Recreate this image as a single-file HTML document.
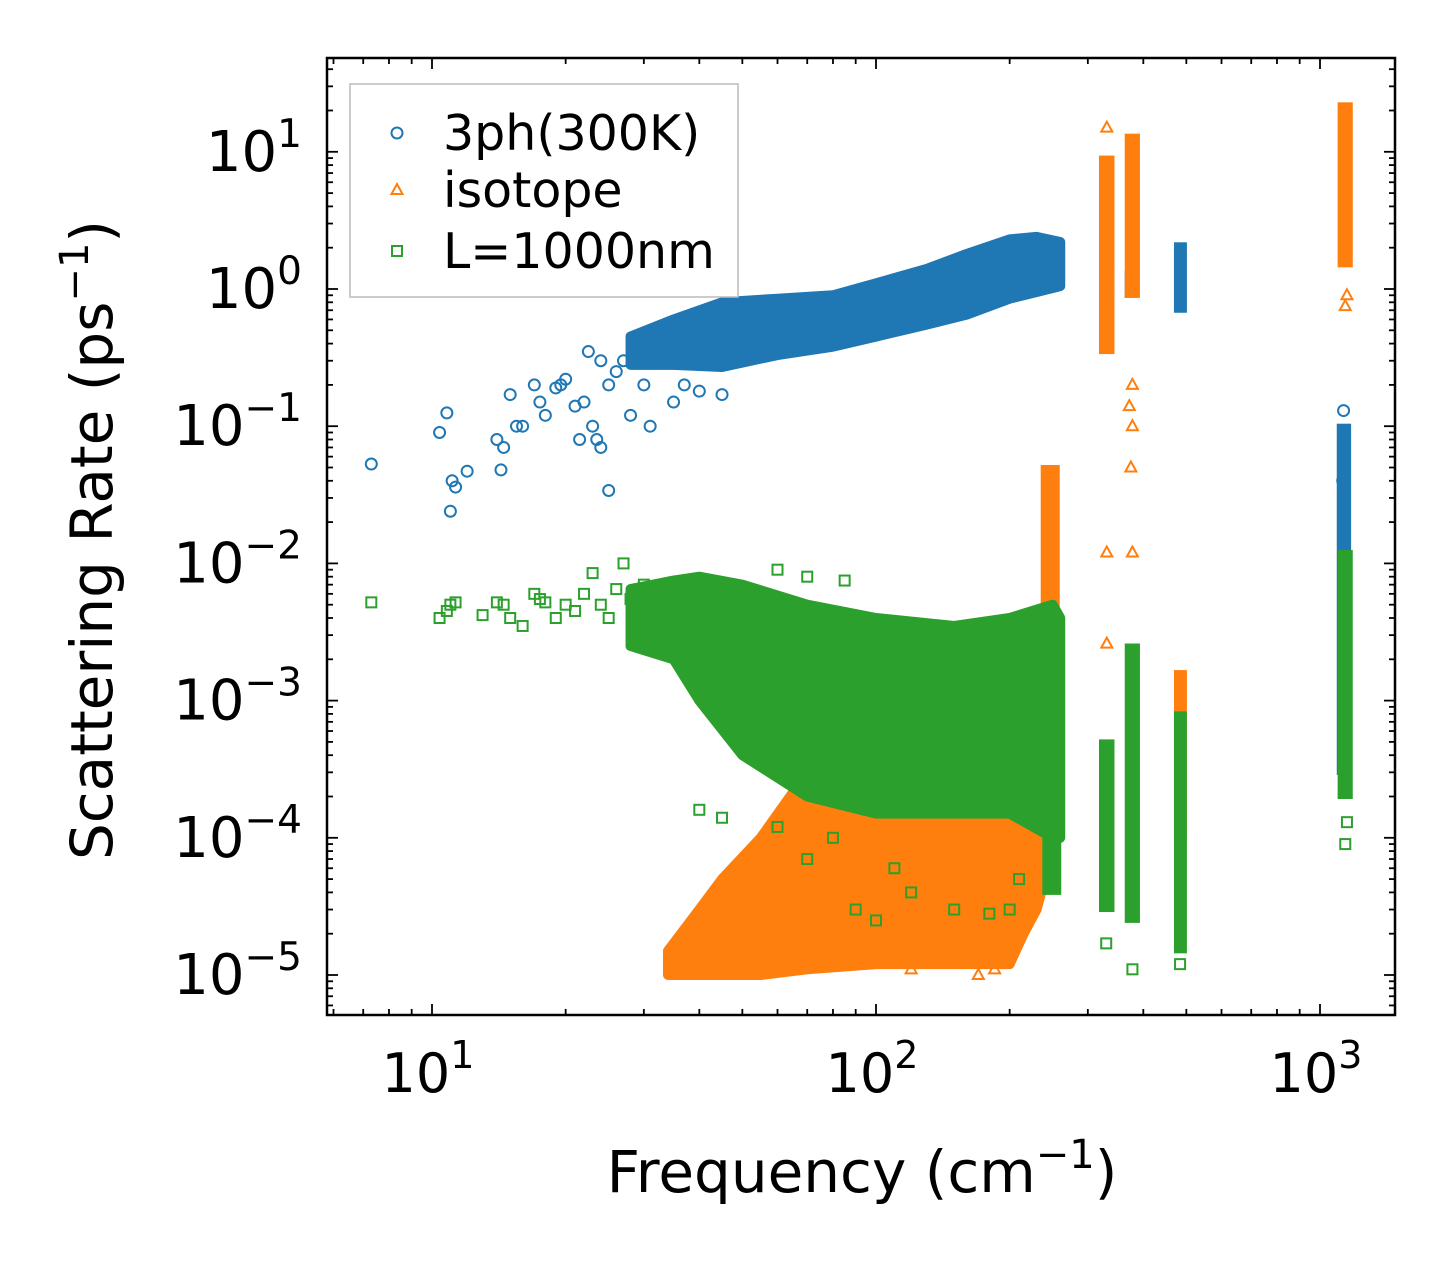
<!DOCTYPE html>
<html><head><meta charset="utf-8"><style>
body{margin:0;background:#fff}
svg text{font-family:"DejaVu Sans","Liberation Sans",sans-serif;fill:#000}
</style></head><body>
<svg id="chart" width="1455" height="1265" xmlns="http://www.w3.org/2000/svg">
<g id="plot"></g>
<g id="axes"></g>
</svg>
<script>
// ---- data ----
const xTickVals = [10, 100, 1000];
const xTickLabels = ["1", "2", "3"];
const yTickVals = [10, 1, 0.1, 0.01, 0.001, 0.0001, 0.00001];
const yTickLabels = ["1", "0", "\u22121", "\u22122", "\u22123", "\u22124", "\u22125"];

// blue 3ph sparse points [freq, rate]
const bluePts = [[7.3,0.053],[10.4,0.09],[10.8,0.125],[11,0.024],[11.1,0.04],[11.3,0.036],[12,0.047],[14,0.08],[14.3,0.048],[14.5,0.07],[15,0.17],[15.5,0.1],[16,0.1],[17,0.2],[17.5,0.15],[18,0.12],[19,0.19],[19.5,0.2],[20,0.22],[21,0.14],[21.5,0.08],[22,0.15],[22.5,0.35],[23,0.1],[23.5,0.08],[24,0.07],[24,0.3],[25,0.034],[25,0.2],[26,0.25],[27,0.3],[28,0.12],[29,0.4],[30,0.2],[31,0.1],[32,0.5],[33,0.3],[35,0.15],[37,0.2],[40,0.18],[45,0.17],[1125,0.04],[1130,0.13],[1135,0.09]];
// blue dense band: freq, low, high
const blueBandF = [28,35,45,60,80,100,130,160,200,230,260];
const blueBandLo = [0.28,0.28,0.27,0.33,0.38,0.45,0.55,0.65,0.85,0.95,1.05];
const blueBandHi = [0.45,0.6,0.8,0.85,0.9,1.1,1.4,1.8,2.3,2.4,2.2];
// blue strips: [fLo, fHi, rLo, rHi]
const blueStrips = [[325,340,0.9,1.4],[368,385,0.9,1.3],[475,495,0.7,2.1],[1105,1160,0.0003,0.1]];

// orange isotope
const orangePts = [[331,15],[331,0.012],[331,0.0026],[378,0.2],[378,0.1],[375,0.05],[378,0.012],[372,0.14],[1150,0.9],[1140,0.75],[40,1.2e-5],[60,1.1e-5],[90,1.2e-5],[120,1.1e-5],[170,1.0e-5],[185,1.1e-5]];
const orangeBandF = [34,40,45,55,70,100,150,200,215,230,240];
const orangeBandLo = [1.0e-5,1.0e-5,1.0e-5,1.0e-5,1.1e-5,1.2e-5,1.2e-5,1.2e-5,2e-5,3e-5,5e-5];
const orangeBandHi = [1.5e-5,3e-5,5e-5,1e-4,3e-4,4e-4,5e-4,6e-4,1e-3,2e-3,4e-3];
const orangeStrips = [[238,256,1e-4,0.05],[322,340,0.35,9],[368,388,0.9,13],[475,495,1e-4,1.6e-3],[1110,1170,1.5,22]];

// green L=1000nm
const greenPts = [[7.3,0.0052],[10.4,0.004],[10.8,0.0045],[11,0.005],[11.3,0.0052],[13,0.0042],[14,0.0052],[14.5,0.005],[15,0.004],[16,0.0035],[17,0.006],[17.5,0.0055],[18,0.0052],[19,0.004],[20,0.005],[21,0.0045],[22,0.006],[23,0.0085],[24,0.005],[25,0.004],[26,0.0065],[27,0.01],[28,0.0055],[30,0.007],[40,1.6e-4],[45,1.4e-4],[60,1.2e-4],[70,7e-5],[80,1e-4],[90,3e-5],[100,2.5e-5],[110,6e-5],[120,4e-5],[150,3e-5],[180,2.8e-5],[200,3e-5],[210,5e-5],[60,0.009],[70,0.008],[85,0.0075],[330,1.7e-5],[378,1.1e-5],[484,1.2e-5],[1140,9e-5],[1150,1.3e-4]];
const greenBandF = [28,35,40,50,70,100,150,200,250,260];
const greenBandLo = [0.0025,0.002,0.001,4e-4,2e-4,1.5e-4,1.5e-4,1.5e-4,1e-4,1e-4];
const greenBandHi = [0.0065,0.0075,0.008,0.007,0.005,0.004,0.0035,0.004,0.005,0.004];
const greenStrips = [[322,340,3e-5,5e-4],[368,388,2.5e-5,2.5e-3],[475,495,1.5e-5,8e-4],[1110,1170,2e-4,0.012],[240,258,4e-5,1e-3]];

// ---- axes geometry ----
const X0=327,X1=1395,Y0=58,Y1=1015;
const xDec=444, xAt10=432;
const yDec=137.2, yAt1=289;
function xs(f){return xAt10+(Math.log10(f)-1)*xDec;}
function ys(r){return yAt1-Math.log10(r)*yDec;}
const NS="http://www.w3.org/2000/svg";
const plot=document.getElementById('plot'), axes=document.getElementById('axes');
function mk(tag,attrs,parent){const e=document.createElementNS(NS,tag);for(const k in attrs)e.setAttribute(k,attrs[k]);parent.appendChild(e);return e;}

const colors={blue:"#1f77b4",orange:"#ff7f0e",green:"#2ca02c"};
function band(F,Lo,Hi,c,name){
  let d="M"+F.map((f,i)=>xs(f)+","+ys(Hi[i])).join(" L");
  for(let i=F.length-1;i>=0;i--) d+=" L"+xs(F[i])+","+ys(Lo[i]);
  const p=mk('path',{d:d+"Z",fill:c,stroke:c,'stroke-width':10,'stroke-linejoin':'round'},plot);
  
  
}
function strips(S,c,name){
  S.forEach(s=>{
    const r=mk('rect',{x:xs(s[0]),y:ys(s[3]),width:xs(s[1])-xs(s[0]),height:ys(s[2])-ys(s[3]),fill:c,stroke:c,'stroke-width':5},plot);
    
    
  });
}
function marker(kind,x,y,c,parent){
  let e;
  if(kind==='o') e=mk('circle',{cx:x,cy:y,r:5.5,fill:'none',stroke:c,'stroke-width':2},parent);
  else if(kind==='^') e=mk('polygon',{points:`${x},${y-6} ${x-5.5},${y+4} ${x+5.5},${y+4}`,fill:'none',stroke:c,'stroke-width':2},parent);
  else e=mk('rect',{x:x-5,y:y-5,width:10,height:10,fill:'none',stroke:c,'stroke-width':2},parent);
  return e;
}
function pts(P,kind,c,name){
  P.forEach(p=>{
    const e=marker(kind,xs(p[0]),ys(p[1]),c,plot);
    
    
  });
}
band(blueBandF,blueBandLo,blueBandHi,colors.blue,'3ph-dense-band');
strips(blueStrips,colors.blue,'3ph-strip');
pts(bluePts,'o',colors.blue,'3ph-point');
band(orangeBandF,orangeBandLo,orangeBandHi,colors.orange,'isotope-dense-band');
strips(orangeStrips,colors.orange,'isotope-strip');
pts(orangePts,'^',colors.orange,'isotope-point');
band(greenBandF,greenBandLo,greenBandHi,colors.green,'boundary-dense-band');
strips(greenStrips,colors.green,'boundary-strip');
pts(greenPts,'s',colors.green,'boundary-point');

// frame
const fr=mk('rect',{x:X0,y:Y0,width:X1-X0,height:Y1-Y0,fill:'none',stroke:'#000','stroke-width':2.5},axes);

// x ticks
for(let d=0;d<=3;d++){for(let m=1;m<10;m++){const f=m*Math.pow(10,d);const x=xs(f);if(x<X0||x>X1)continue;const L=m===1?11:6;
  mk('line',{x1:x,y1:Y1,x2:x,y2:Y1-L,stroke:'#000','stroke-width':1.8},axes);
  mk('line',{x1:x,y1:Y0,x2:x,y2:Y0+L,stroke:'#000','stroke-width':1.8},axes);}}
xTickVals.forEach((v,i)=>{const t=mk('text',{x:xs(v)-4,y:1092,'font-size':54,'text-anchor':'middle'},axes);
  t.textContent="10";const s=mk('tspan',{dy:-24,'font-size':38},t);s.textContent=xTickLabels[i];
  });
// y ticks
for(let d=-6;d<=1;d++){for(let m=1;m<10;m++){const r=m*Math.pow(10,d);const y=ys(r);if(y<Y0||y>Y1)continue;const L=m===1?11:6;
  mk('line',{x1:X0,y1:y,x2:X0+L,y2:y,stroke:'#000','stroke-width':1.8},axes);
  mk('line',{x1:X1,y1:y,x2:X1-L,y2:y,stroke:'#000','stroke-width':1.8},axes);}}
yTickVals.forEach((v,i)=>{const t=mk('text',{x:302,y:ys(v)+19,'font-size':56,'text-anchor':'end'},axes);
  t.textContent="10";const s=mk('tspan',{dy:-24,'font-size':39},t);s.textContent=yTickLabels[i];
  });
// titles
const xt=mk('text',{x:862,y:1192,'font-size':58,'text-anchor':'middle'},axes);
xt.textContent="Frequency (cm";const xs1=mk('tspan',{dy:-24,'font-size':40},xt);xs1.textContent="\u22121";const xs2=mk('tspan',{dy:24},xt);xs2.textContent=")";

const yt=mk('text',{x:0,y:0,'font-size':58,'text-anchor':'middle',transform:'translate(112,540) rotate(-90)'},axes);
yt.textContent="Scattering Rate (ps";const ys1=mk('tspan',{dy:-24,'font-size':40},yt);ys1.textContent="\u22121";const ys2=mk('tspan',{dy:24},yt);ys2.textContent=")";

// legend
const lg=mk('g',{},axes);
mk('rect',{x:350,y:84,width:388,height:213,fill:'#fff','fill-opacity':0.8,stroke:'#bbb','stroke-width':1.5},lg);
[["o",colors.blue,"3ph(300K)",133],["^",colors.orange,"isotope",190],["s",colors.green,"L=1000nm",251]].forEach(e=>{
  const g=mk('g',{},lg);
  marker(e[0],397,e[3],e[1],g);
  const t=mk('text',{x:443,y:e[3]+17,'font-size':49},g);t.textContent=e[2];});
</script>
</body></html>
